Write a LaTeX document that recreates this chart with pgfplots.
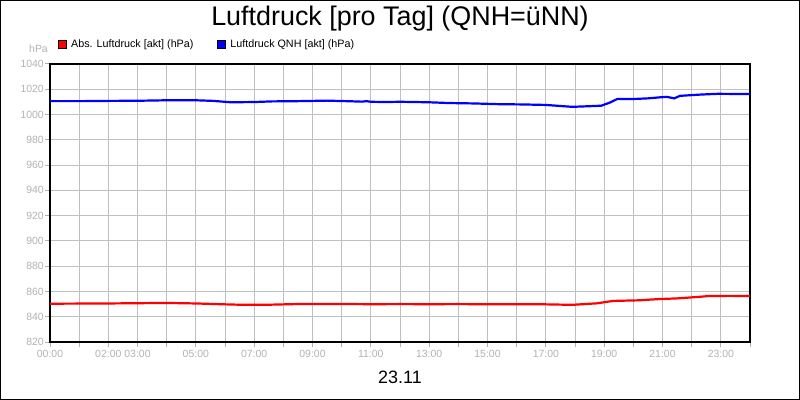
\documentclass[border=0pt]{standalone}
\usepackage{fontspec}
\setmainfont{Liberation Sans}
\usepackage{pgfplots}
\pgfplotsset{compat=1.18}
\definecolor{tickgray}{RGB}{178,178,178}
\definecolor{gridgray}{RGB}{192,192,192}
\begin{document}
\begin{tikzpicture}
\path[use as bounding box] (0,0) rectangle (800bp,400bp);
\draw[line width=1bp] (0.5bp,0.5bp) rectangle (799.5bp,399.5bp);
\begin{axis}[
    name=ax,
    at={(50bp,58bp)}, anchor=south west,
    scale only axis,
    width=700bp, height=278bp,
    xmin=0, xmax=24,
    ymin=820, ymax=1040,
    xtick={0,...,24},
    xticklabels={00:00,{},02:00,03:00,{},05:00,{},07:00,{},09:00,{},11:00,{},13:00,{},15:00,{},17:00,{},19:00,{},21:00,{},23:00,{}},
    ytick={820,840,...,1040},
    grid=major,
    grid style={gridgray, line width=1bp},
    axis line style={black, line width=1.3bp},
    tick align=outside,
    tick pos=left,
    major tick length=5bp,
    tick style={tickgray, line width=1bp},
    ticklabel style={font=\fontsize{10.5}{12}\selectfont, text=tickgray},
    yticklabel style={inner sep=1bp},
    /pgf/number format/assume math mode=true,
    /pgf/number format/1000 sep={},
    title={Luftdruck [pro Tag] (QNH=üNN)},
    title style={font=\fontsize{27}{30}\selectfont, at={(0.5,1)}, anchor=base, yshift=33bp, inner sep=0pt},
    xlabel={23.11},
    xlabel style={font=\fontsize{18}{20}\selectfont, at={(0.5,0)}, anchor=base, yshift=-41bp, inner sep=0pt},
    legend columns=2,
    legend style={draw=none, fill=none, at={(0,1)}, anchor=west, xshift=8bp, yshift=19.5bp,
        inner sep=0pt, nodes={inner sep=0pt}, cells={anchor=west},
        font=\fontsize{10.8}{12}\selectfont,
        /tikz/every even column/.append style={column sep=24bp}},
    legend image code/.code={
        \draw[fill, draw=black, line width=0.6bp] (0bp,-3.5bp) rectangle (7.5bp,4bp);
        \path (11.5bp,0bp);},
]
\addplot[red, line width=2.2bp] coordinates {
(0,850.3) (1,850.4) (2,850.5) (3,850.7) (4,850.9) (5,850.5) (6,849.8) (6.5,849.5)
(7.5,849.5) (8.6,850.1) (10,850.1) (11,849.9) (12,850.0) (13,849.9) (14,850.0)
(15.4,849.8) (17,849.8) (17.9,849.4) (18.75,850.6) (19.3,852.5) (20.2,853.0)
(20.9,854.0) (21.5,854.5) (22.3,855.8) (22.6,856.4) (23.3,856.5) (24,856.4)
};
\addlegendentry{Abs. Luftdruck [akt] (hPa)}
\addplot[blue, line width=2.2bp] coordinates {
(0,1010.6) (1,1010.6) (2,1010.8) (3,1010.9) (4,1011.3) (5,1011.3) (5.6,1010.8)
(6.2,1009.7) (7,1009.9) (7.6,1010.4) (8.5,1010.6) (9.5,1011.0) (10.3,1010.5)
(10.7,1010.2) (10.85,1010.6) (11.0,1010.1) (11.5,1009.9) (12,1010.1) (13,1009.7)
(13.7,1009.1) (14.5,1008.8) (15.4,1008.2) (16.2,1008.0) (17.0,1007.6) (17.3,1007.1)
(17.9,1006.1) (18.5,1006.6) (18.9,1007.0) (19.2,1009.5) (19.45,1012.3) (20,1012.3)
(20.5,1012.8) (20.9,1013.6) (21.15,1014.0) (21.4,1012.8) (21.6,1014.8) (22.3,1015.8)
(22.9,1016.4) (23.5,1016.3) (24,1016.2)
};
\addlegendentry{Luftdruck QNH [akt] (hPa)}
\end{axis}
\node[anchor=base east, inner sep=0pt, text=tickgray, font=\fontsize{10.5}{12}\selectfont]
    at ([xshift=-2bp, yshift=11bp]ax.north west) {hPa};
\end{tikzpicture}
\end{document}
